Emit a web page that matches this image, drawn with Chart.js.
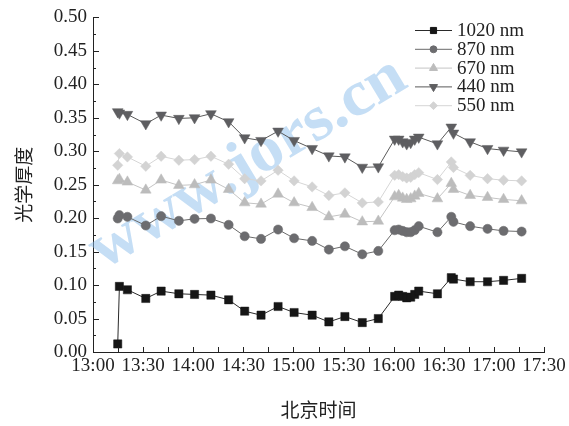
<!DOCTYPE html>
<html>
<head>
<meta charset="utf-8">
<script src="https://cdn.jsdelivr.net/npm/chart.js@4.4.0/dist/chart.umd.min.js"></script>
<style>
  html, body { margin: 0; padding: 0; background: #fff; }
  #wrap { width: 569px; height: 426px; }
</style>
</head>
<body>
<div id="wrap"><canvas id="aodChart" width="569" height="426"></canvas></div>
<script>
// minutes after 13:00
const times = [14.8, 15.8, 20.6, 31.6, 40.8, 51.4, 60.8, 70.6, 81.2, 90.8, 100.6, 110.8, 120.4, 131.2,
  141.2, 150.8, 161.2, 170.8, 180.6, 183, 185.4, 187.8, 190.2, 192.6, 195, 206.2, 214.5, 215.8,
  225.8, 236.2, 245.8, 256.6];

const aod1020 = [0.012, 0.098, 0.093, 0.080, 0.091, 0.087, 0.086, 0.085, 0.078, 0.061, 0.055, 0.068,
  0.059, 0.055, 0.045, 0.053, 0.044, 0.050, 0.083, 0.085, 0.083, 0.081, 0.082, 0.086, 0.091, 0.087,
  0.111, 0.109, 0.105, 0.105, 0.107, 0.110];
const aod870 = [0.1995, 0.2045, 0.202, 0.189, 0.203, 0.196, 0.199, 0.1995, 0.190, 0.173, 0.169, 0.183,
  0.170, 0.166, 0.153, 0.158, 0.146, 0.151, 0.182, 0.183, 0.181, 0.179, 0.179, 0.182, 0.188, 0.179,
  0.202, 0.1945, 0.188, 0.184, 0.181, 0.180];
const aod670 = [0.256, 0.258, 0.254, 0.242, 0.257, 0.249, 0.250, 0.257, 0.243, 0.223, 0.221, 0.236,
  0.223, 0.216, 0.202, 0.206, 0.1945, 0.1955, 0.232, 0.234, 0.230, 0.228, 0.229, 0.233, 0.237, 0.229,
  0.252, 0.243, 0.234, 0.231, 0.228, 0.226];
const aod440 = [0.359, 0.357, 0.355, 0.341, 0.354, 0.349, 0.350, 0.356, 0.344, 0.320, 0.316, 0.330,
  0.316, 0.304, 0.293, 0.2915, 0.276, 0.2766, 0.318, 0.318, 0.314, 0.311, 0.313, 0.318, 0.321, 0.311,
  0.336, 0.327, 0.314, 0.304, 0.3015, 0.299];
const aod550 = [0.279, 0.2965, 0.2915, 0.2776, 0.2925, 0.2866, 0.2875, 0.2925, 0.2806, 0.259, 0.2557,
  0.2716, 0.2557, 0.2467, 0.2338, 0.2378, 0.2228, 0.2243, 0.264, 0.265, 0.262, 0.260, 0.261, 0.265,
  0.268, 0.2577, 0.284, 0.2757, 0.264, 0.259, 0.2567, 0.2557];

const seriesNames = ["1020 nm", "870 nm", "670 nm", "440 nm", "550 nm"];
const xTickStep = 30; // minutes between labels
const serif = "'Liberation Serif', 'DejaVu Serif', serif";
const cjk = "'Noto Sans CJK SC', sans-serif";

const toPoints = (vals) => vals.map((v, i) => ({ x: times[i], y: v }));

const makeSet = (label, vals, style, fill, line, radius, rotation) => ({
  label,
  data: toPoints(vals),
  showLine: true,
  borderColor: line,
  borderWidth: 1,
  pointStyle: style,
  pointRotation: rotation || 0,
  pointRadius: radius,
  pointHoverRadius: radius,
  pointBackgroundColor: fill,
  pointBorderColor: fill,
  pointBorderWidth: 0.5,
});

const datasets = [
  makeSet(seriesNames[0], aod1020, "rect", "#161616", "#2a2a2a", 5.8),
  makeSet(seriesNames[1], aod870, "circle", "#6c6c6f", "#6a6a6a", 4.6),
  makeSet(seriesNames[2], aod670, "triangle", "#bcbcbc", "#c4c4c4", 6.2),
  makeSet(seriesNames[3], aod440, "triangle", "#5e5e61", "#5a5a5a", 6.2, 180),
  makeSet(seriesNames[4], aod550, "rectRot", "#d3d3d3", "#d6d6d6", 5.2),
];

const fmtTime = (m) => {
  const h = 13 + Math.floor(m / 60);
  const mm = m % 60;
  return h + ":" + (mm < 10 ? "0" + mm : mm);
};

// watermark, inward ticks and a line+marker legend
const decor = {
  id: "decor",
  beforeDatasetsDraw(chart) {
    const ctx = chart.ctx;
    ctx.save();
    ctx.translate(248, 164);
    ctx.rotate(-31 * Math.PI / 180);
    ctx.font = "bold 64px " + serif;
    const w = ctx.measureText("www.jors.cn").width;
    ctx.scale(358 / w, 1);
    ctx.fillStyle = "rgba(140, 190, 235, 0.5)";
    ctx.textAlign = "center";
    ctx.textBaseline = "middle";
    ctx.fillText("www.jors.cn", 0, 0);
    ctx.restore();
  },
  afterDraw(chart) {
    const ctx = chart.ctx;
    const xs = chart.scales.x;
    const ys = chart.scales.y;
    const area = chart.chartArea;
    ctx.save();
    ctx.strokeStyle = "#222";
    ctx.lineWidth = 1;
    ctx.beginPath();
    for (let m = 15; m <= 270; m += 15) {
      const px = Math.round(xs.getPixelForValue(m)) + 0.5;
      ctx.moveTo(px, area.bottom);
      ctx.lineTo(px, area.bottom - 5);
    }
    for (let k = 1; k <= 20; k++) {
      const py = Math.round(ys.getPixelForValue(k * 0.025)) + 0.5;
      ctx.moveTo(area.left, py);
      ctx.lineTo(area.left + (k % 2 === 0 ? 6 : 3), py);
    }
    ctx.stroke();

    // legend
    chart.data.datasets.forEach((ds, i) => {
      const y = 30 + 18.8 * i;
      ctx.strokeStyle = ds.borderColor;
      ctx.beginPath();
      ctx.moveTo(415, y + 0.5);
      ctx.lineTo(452, y + 0.5);
      ctx.stroke();
      ctx.fillStyle = ds.pointBackgroundColor;
      ctx.strokeStyle = ds.pointBorderColor;
      Chart.helpers.drawPoint(ctx, {
        pointStyle: ds.pointStyle,
        rotation: ds.pointRotation,
        radius: ds.pointRadius * 0.75,
        borderWidth: 0.5,
      }, 433.5, y + 0.5);
      ctx.fillStyle = "#222";
      ctx.font = "19px " + serif;
      ctx.textAlign = "left";
      ctx.textBaseline = "middle";
      ctx.fillText(ds.label, 457, y + 1);
    });
    ctx.restore();
  },
};

new Chart(document.getElementById("aodChart"), {
  type: "scatter",
  data: { datasets },
  plugins: [decor],
  options: {
    responsive: false,
    animation: false,
    events: [],
    layout: { autoPadding: false, padding: { left: 0, top: 17, right: 25, bottom: 0 } },
    plugins: { legend: { display: false }, tooltip: { enabled: false } },
    scales: {
      x: {
        type: "linear",
        min: 0,
        max: 270,
        afterFit: (s) => { s.height = 74; },
        grid: { display: false, drawTicks: false },
        border: { display: true, color: "#222", width: 1 },
        ticks: {
          stepSize: xTickStep,
          padding: 3,
          color: "#222",
          font: { family: serif, size: 19 },
          maxRotation: 0,
          autoSkip: false,
          callback: (v) => fmtTime(v),
        },
        title: {
          display: true,
          text: "北京时间",
          color: "#222",
          font: { family: cjk, size: 19 },
          padding: { top: 0, bottom: 5 },
        },
      },
      y: {
        min: 0,
        max: 0.5,
        afterFit: (s) => { s.width = 93; },
        grid: { display: false, drawTicks: false },
        border: { display: true, color: "#222", width: 1 },
        ticks: {
          stepSize: 0.05,
          padding: 6,
          color: "#222",
          font: { family: serif, size: 19 },
          callback: (v) => v.toFixed(2),
        },
        title: {
          display: true,
          text: "光学厚度",
          color: "#222",
          font: { family: cjk, size: 19 },
          padding: { top: 12, bottom: 0 },
        },
      },
    },
  },
});
</script>
</body>
</html>
